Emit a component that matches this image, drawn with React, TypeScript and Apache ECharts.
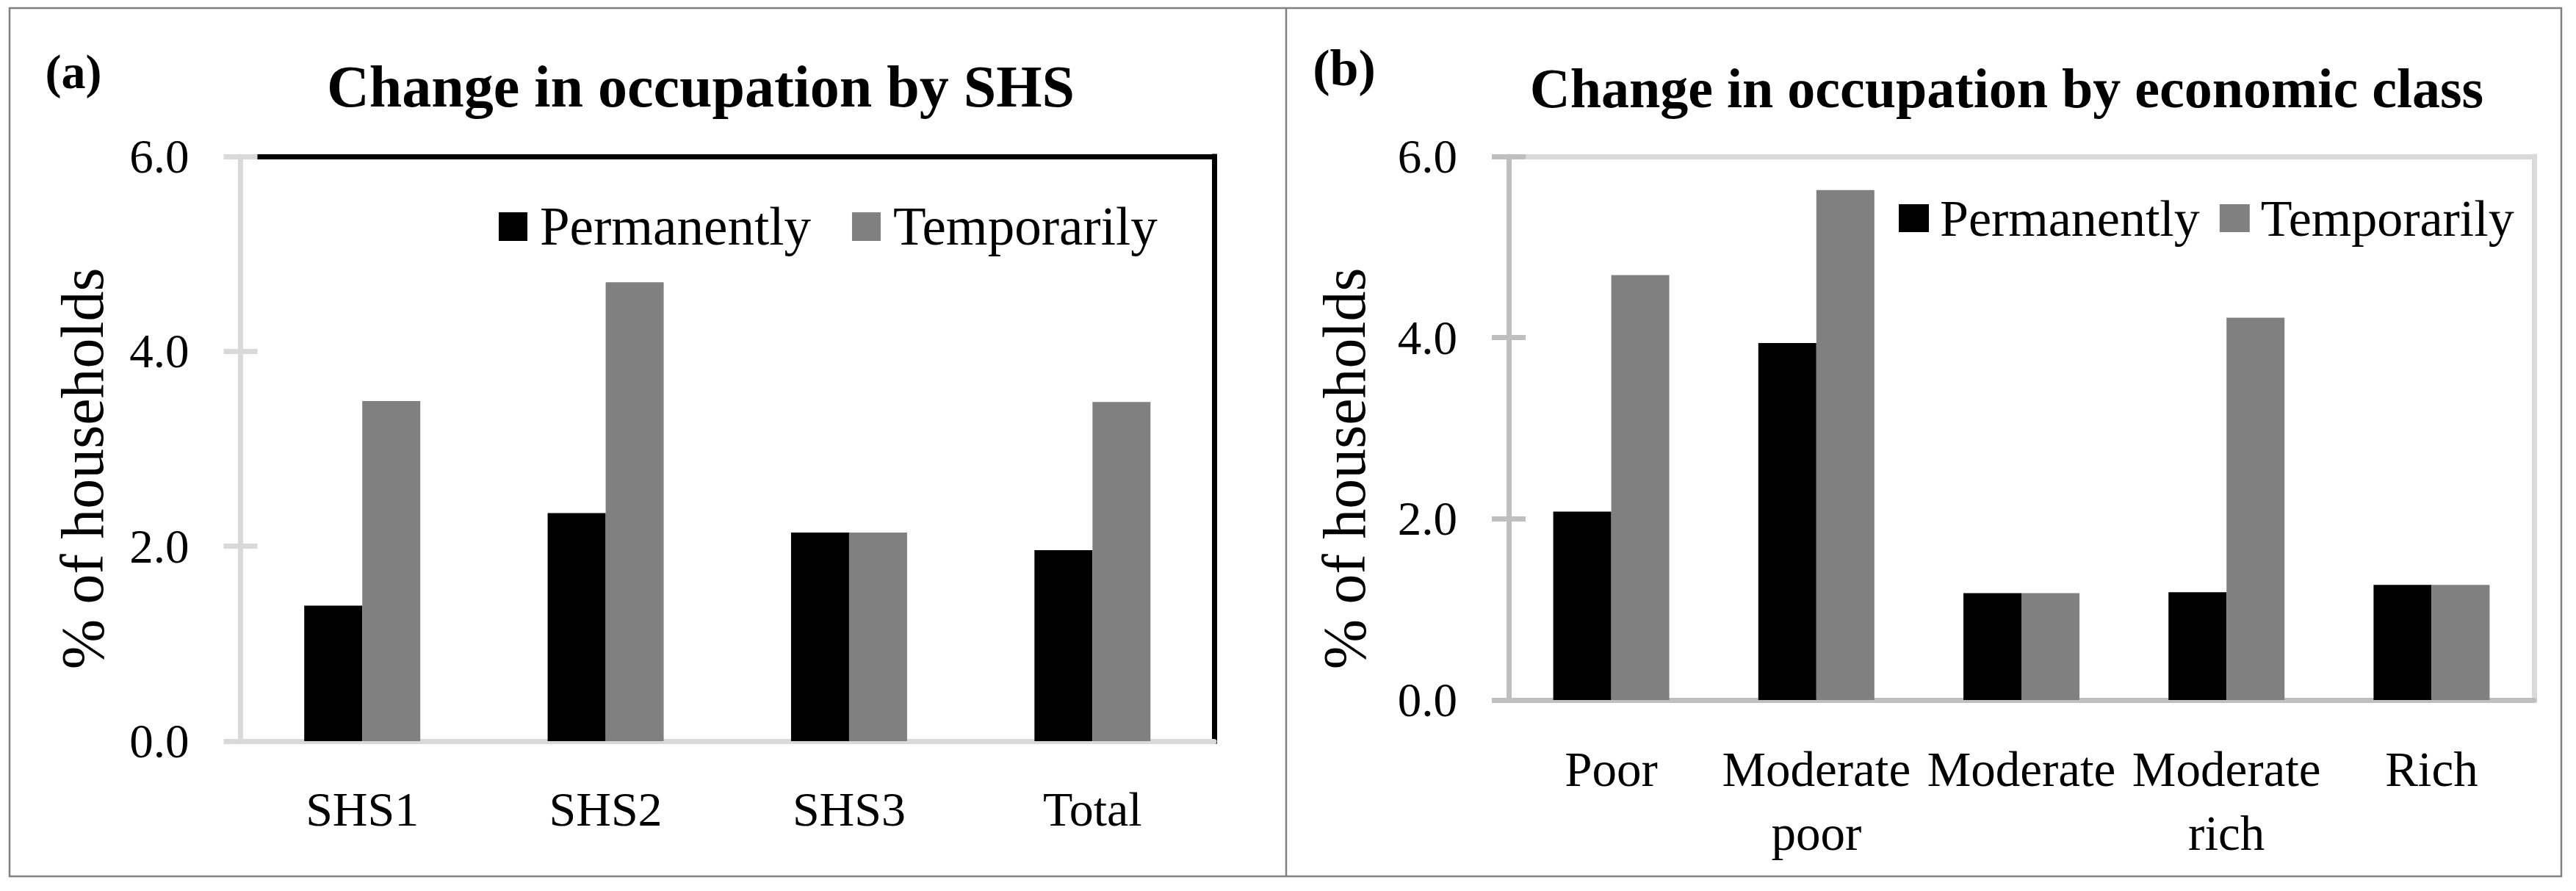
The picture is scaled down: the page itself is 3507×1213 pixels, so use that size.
import React, { useEffect, useRef } from "react";
import * as echarts from "echarts";

// ---------- data ----------
const shsCategories = ["SHS1", "SHS2", "SHS3", "Total"];
const shsPermanently = [1.39, 2.34, 2.14, 1.96];
const shsTemporarily = [3.49, 4.71, 2.14, 3.48];

const classCategories = ["Poor", "Moderate\npoor", "Moderate", "Moderate\nrich", "Rich"];
const classPermanently = [2.08, 3.94, 1.18, 1.19, 1.27];
const classTemporarily = [4.69, 5.63, 1.18, 4.22, 1.27];

const seriesNames = ["Permanently", "Temporarily"];
const yMin = 0;
const yMax = 6;
const yInterval = 2;
const titles = ["Change in occupation by SHS", "Change in occupation by economic class"];
const panelLabels = ["(a)", "(b)"];
const yAxisName = "% of households";

// ---------- layout / style ----------
const W = 3507;
const H = 1213;
const serif = "'Liberation Serif', 'Times New Roman', serif";
const G0 = { left: 327.5, top: 213, width: 1325.5, height: 796 };
const G1 = { left: 2054, top: 213, width: 1396, height: 740 };

function mainY(gridIndex: number, color: string) {
  return {
    type: "value", gridIndex, min: yMin, max: yMax, interval: yInterval, position: "left", z: 3,
    axisLine: { show: true, lineStyle: { color, width: 7 } },
    axisTick: { show: true, length: 23, lineStyle: { color, width: 7 } },
    axisLabel: { margin: 70, fontSize: 65, fontFamily: serif, color: "#000", formatter: (v: number) => v.toFixed(1) },
    splitLine: { show: false },
  };
}
function innerTickY(gridIndex: number, color: string) {
  return {
    type: "value", gridIndex, min: yMin, max: yMax, interval: yInterval, position: "left", z: 3,
    axisLine: { show: false },
    axisTick: { show: true, inside: true, length: 23, lineStyle: { color, width: 7 } },
    axisLabel: { show: false },
    splitLine: { show: false },
  };
}
function borderY(gridIndex: number, color: string) {
  return {
    type: "value", gridIndex, min: yMin, max: yMax, interval: yInterval, position: "right", z: 1,
    axisLine: { show: true, onZero: false, lineStyle: { color, width: 7, cap: "square" } },
    axisTick: { show: false }, axisLabel: { show: false }, splitLine: { show: false },
  };
}
function borderX(gridIndex: number, data: string[], color: string) {
  return {
    type: "category", gridIndex, data, position: "top", z: 1,
    axisLine: { show: true, onZero: false, lineStyle: { color, width: 7, cap: "square" } },
    axisTick: { show: false }, axisLabel: { show: false }, splitLine: { show: false },
  };
}

export default function App() {
  const ref = useRef<HTMLDivElement>(null);
  useEffect(() => {
    document.body.style.margin = "0";
    const chart = echarts.init(ref.current!, null, { renderer: "svg" });
    const option: any = {
      animation: false,
      backgroundColor: "#ffffff",
      grid: [
        { ...G0, containLabel: false },
        { ...G1, containLabel: false },
      ],
      legend: [
        {
          left: 679, top: 272, itemWidth: 39, itemHeight: 39, itemGap: 56, padding: 0, icon: "rect",
          data: seriesNames, selectedMode: false,
          textStyle: { fontSize: 73, fontFamily: serif, color: "#000", lineHeight: 39, padding: [0, 0, 0, 12] },
        },
        {
          left: 2585, top: 262, itemWidth: 41, itemHeight: 38, itemGap: 27, padding: 0, icon: "rect",
          data: seriesNames, selectedMode: false,
          textStyle: { fontSize: 70, fontFamily: serif, color: "#000", lineHeight: 38, padding: [0, 0, 0, 10] },
        },
      ],
      xAxis: [
        {
          type: "category", gridIndex: 0, data: shsCategories, position: "bottom", z: 2,
          axisLine: { show: true, lineStyle: { color: "#d9d9d9", width: 7 } },
          axisTick: { show: false },
          axisLabel: { interval: 0, margin: 59, fontSize: 66, lineHeight: 66, fontFamily: serif, color: "#000" },
        },
        borderX(0, shsCategories, "#000"),
        {
          type: "category", gridIndex: 1, data: classCategories, position: "bottom", z: 2,
          axisLine: { show: true, lineStyle: { color: "#bfbfbf", width: 7 } },
          axisTick: { show: false },
          axisLabel: { interval: 0, margin: 50, fontSize: 67, lineHeight: 87, fontFamily: serif, color: "#000" },
        },
        borderX(1, classCategories, "#d9d9d9"),
      ],
      yAxis: [
        mainY(0, "#d9d9d9"),
        innerTickY(0, "#d9d9d9"),
        borderY(0, "#000"),
        mainY(1, "#bfbfbf"),
        innerTickY(1, "#bfbfbf"),
        borderY(1, "#d9d9d9"),
      ],
      series: [
        { type: "bar", name: seriesNames[0], xAxisIndex: 0, yAxisIndex: 0, data: shsPermanently, barWidth: 79, barGap: "0%", itemStyle: { color: "#000000" } },
        { type: "bar", name: seriesNames[1], xAxisIndex: 0, yAxisIndex: 0, data: shsTemporarily, barWidth: 79, barGap: "0%", itemStyle: { color: "#808080" } },
        { type: "bar", name: seriesNames[0], xAxisIndex: 2, yAxisIndex: 3, data: classPermanently, barWidth: 79, barGap: "0%", itemStyle: { color: "#000000" } },
        { type: "bar", name: seriesNames[1], xAxisIndex: 2, yAxisIndex: 3, data: classTemporarily, barWidth: 79, barGap: "0%", itemStyle: { color: "#808080" } },
      ],
      graphic: [
        { type: "rect", silent: true, shape: { x: 13, y: 11, width: 3474, height: 1182 }, style: { fill: "none", stroke: "#808080", lineWidth: 2.5 } },
        { type: "line", silent: true, shape: { x1: 1751, y1: 11, x2: 1751, y2: 1193 }, style: { stroke: "#808080", lineWidth: 2.5 } },
        { type: "text", x: 100, y: 97, style: { text: panelLabels[0], fontSize: 66, fontWeight: "bold", fontFamily: serif, fill: "#000", align: "center", verticalAlign: "middle" } },
        { type: "text", x: 1830, y: 92, style: { text: panelLabels[1], fontSize: 70, fontWeight: "bold", fontFamily: serif, fill: "#000", align: "center", verticalAlign: "middle" } },
        { type: "text", x: 954, y: 118, style: { text: titles[0], fontSize: 80, fontWeight: "bold", fontFamily: serif, fill: "#000", align: "center", verticalAlign: "middle" } },
        { type: "text", x: 2732, y: 120, style: { text: titles[1], fontSize: 76, fontWeight: "bold", fontFamily: serif, fill: "#000", align: "center", verticalAlign: "middle" } },
        { type: "text", x: 112, y: 638, rotation: Math.PI / 2, style: { text: yAxisName, fontSize: 82, fontFamily: serif, fill: "#000", align: "center", verticalAlign: "middle" } },
        { type: "text", x: 1830, y: 638, rotation: Math.PI / 2, style: { text: yAxisName, fontSize: 82, fontFamily: serif, fill: "#000", align: "center", verticalAlign: "middle" } },
      ],
    };
    chart.setOption(option);
    return () => chart.dispose();
  }, []);
  return <div ref={ref} style={{ width: W, height: H }} />;
}
